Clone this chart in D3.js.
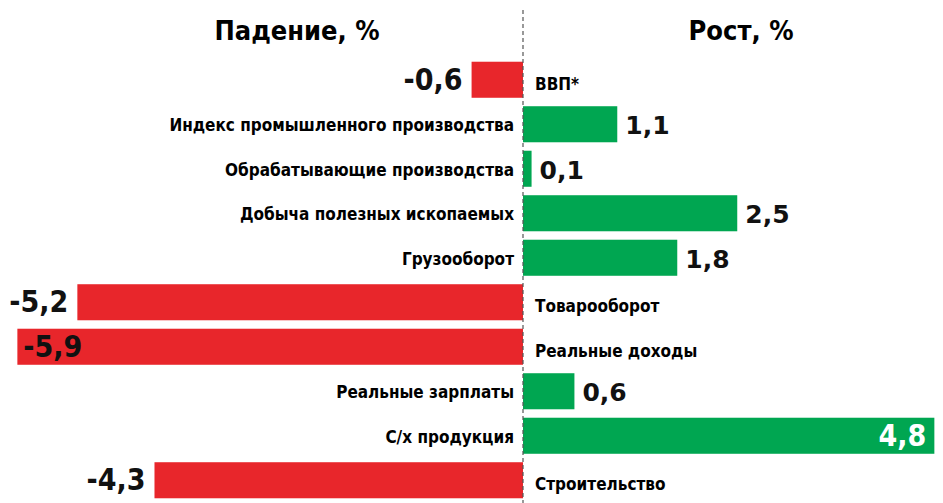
<!DOCTYPE html>
<html>
<head>
<meta charset="utf-8">
<script src="https://cdn.jsdelivr.net/npm/d3@7"></script>
<style>
  body { margin: 0; background: #fff; }
  svg text { font-weight: bold; }
</style>
</head>
<body>
<div id="chart"></div>
<script>
// data
const categories = [
    "ВВП*",
    "Индекс промышленного производства",
    "Обрабатывающие  производства",
    "Добыча полезных ископаемых",
    "Грузооборот",
    "Товарооборот",
    "Реальные доходы",
    "Реальные зарплаты",
    "С/х продукция",
    "Строительство"
]
const values = [-0.6, 1.1, 0.1, 2.5, 1.8, -5.2, -5.9, 0.6, 4.8, -4.3]
const headers = ["Падение, %", "Рост, %"]

const width = 943, height = 503
const red = "#e8262b", green = "#00a651"
const narrow = "'Liberation Sans Narrow', 'DejaVu Sans Condensed', sans-serif"
const wide = "'DejaVu Sans', sans-serif"

let svg = d3.select("#chart").append("svg")
    .attr("width", width)
    .attr("height", height)

let x = d3.scaleLinear().domain([-6, 6]).range([8.8, 1037.2])
let y = d3.scaleBand()
    .domain(categories)
    .range([57.5, 502.5])
    .paddingInner(0.19)
    .paddingOuter(0.095)

let rows = categories.map((c, i) => ({ name: c, value: values[i] }))
const fmt = v => String(v).replace(".", ",")

// headers
svg.selectAll(".header")
    .data(headers)
    .enter().append("text")
    .attr("x", (d, i) => i == 0 ? 297 : 741)
    .attr("y", 40)
    .attr("text-anchor", "middle")
    .style("font-family", narrow)
    .style("font-size", "27px")
    .text(d => d)

// bars
svg.selectAll("rect")
    .data(rows)
    .enter().append("rect")
    .attr("x", d => x(Math.min(0, d.value)))
    .attr("y", d => y(d.name))
    .attr("width", d => Math.abs(x(d.value) - x(0)))
    .attr("height", y.bandwidth())
    .attr("fill", d => d.value < 0 ? red : green)

// centre line
svg.append("line")
    .attr("x1", x(0)).attr("x2", x(0))
    .attr("y1", 10).attr("y2", height)
    .attr("stroke", "#555")
    .attr("stroke-width", 1.2)
    .attr("stroke-dasharray", "4,3")

// category labels on the opposite side of the bar
svg.selectAll(".cat")
    .data(rows)
    .enter().append("text")
    .attr("class", "cat")
    .attr("x", d => d.value < 0 ? x(0) + 12 : x(0) - 9)
    .attr("y", d => y(d.name) + y.bandwidth() / 2 + (d.value < 0 ? 10 : 7))
    .attr("text-anchor", d => d.value < 0 ? "start" : "end")
    .style("font-family", narrow)
    .style("font-size", "17px")
    .text(d => d.name)

// value labels; put inside the bar when there is no room outside
const inside = d => x(d.value) < 60 || x(d.value) > width - 60
svg.selectAll(".val")
    .data(rows)
    .enter().append("text")
    .attr("class", "val")
    .attr("x", d => {
        if (inside(d)) return d.value < 0 ? x(d.value) + 6 : x(d.value) - 8
        return d.value < 0 ? x(d.value) - 9 : x(d.value) + 8
    })
    .attr("y", d => y(d.name) + y.bandwidth() / 2 + 10)
    .attr("text-anchor", d => (d.value < 0) == inside(d) ? "start" : "end")
    .attr("fill", d => inside(d) && d.value > 0 ? "#fff" : "#111")
    .style("font-family", d => d.value > 0 && !inside(d) ? wide : narrow)
    .style("font-size", d => d.value > 0 && !inside(d) ? "25px" : "30px")
    .text(d => fmt(d.value))
</script>
</body>
</html>
